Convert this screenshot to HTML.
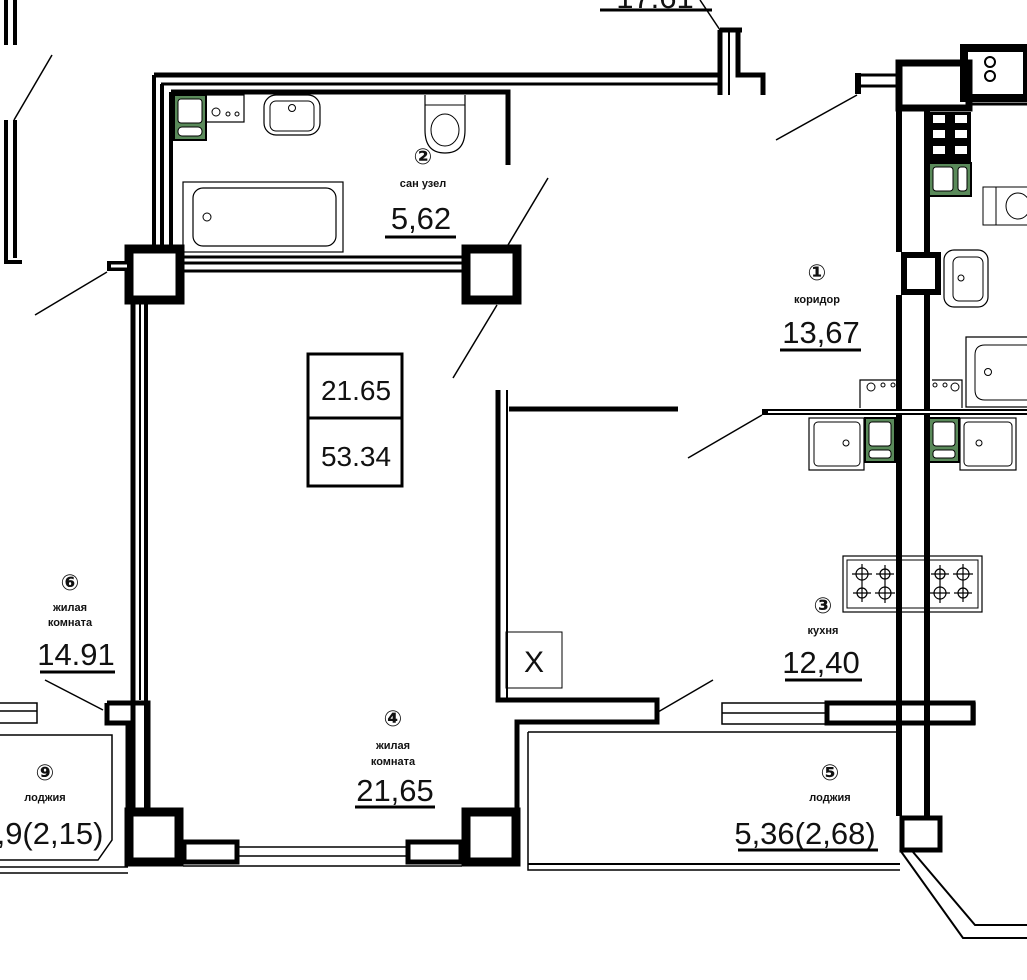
<!DOCTYPE html>
<html><head><meta charset="utf-8"><style>
html,body{margin:0;padding:0;background:#fff;width:1027px;height:980px;overflow:hidden}
svg{display:block}
text{font-family:"Liberation Sans","DejaVu Sans",sans-serif;fill:#111}
.big{font-size:31px}
.sm{font-size:11px;font-weight:bold}
.n{font-size:22px;font-weight:bold}
</style></head><body>
<svg width="1027" height="980" viewBox="0 0 1027 980" xmlns="http://www.w3.org/2000/svg">
<g fill="none" stroke="#000">
<path d="M6 0V45M15 0V45" stroke-width="4"/>
<path d="M6 120V262H22M15 120V258" stroke-width="4"/>
<line x1="52" y1="55" x2="14" y2="120" stroke-width="1.5"/>
<line x1="600" y1="10" x2="712" y2="10" stroke-width="3"/>
<line x1="700" y1="0" x2="720" y2="30" stroke-width="1.5"/>
<path d="M720 30V95M738 30V75H763V95M720 30H742" stroke-width="5"/>
<path d="M729 30V95" stroke-width="2"/>
<path d="M154 75H718" stroke-width="5"/>
<path d="M161 84H718" stroke-width="3"/>
<path d="M171 92H508V165" stroke-width="5"/>
<path d="M154 75V250M162 84V250" stroke-width="4"/>
<path d="M171 92V250" stroke-width="4"/>
<path d="M183 257H462M183 263H462M183 271H462" stroke-width="3"/>
<rect x="183" y="182" width="160" height="70" stroke-width="1.2"/>
<rect x="193" y="188" width="143" height="58" rx="10" stroke-width="1.2"/>
<circle cx="207" cy="217" r="4" stroke-width="1"/>
<rect x="264" y="95" width="56" height="40" rx="12" stroke-width="1.2"/>
<rect x="270" y="101" width="44" height="30" rx="6" stroke-width="1"/>
<circle cx="292" cy="108" r="3.5" stroke-width="1"/>
<path d="M425 95V130Q425 153 445 153Q465 153 465 130V95" stroke-width="1.2"/>
<path d="M425 105H465" stroke-width="1"/>
<ellipse cx="445" cy="130" rx="14" ry="16" stroke-width="1"/>
<rect x="206" y="95" width="38" height="27" stroke-width="1.2"/>
<circle cx="216" cy="112" r="4" stroke-width="1"/>
<circle cx="228" cy="114" r="2" stroke-width="1"/>
<circle cx="237" cy="114" r="2" stroke-width="1"/>
<rect x="174" y="95" width="32" height="45" stroke="#000" fill="#5a8a5a" stroke-width="2"/>
<rect x="178" y="99" width="24" height="24" fill="#fff" rx="3" stroke-width="1"/>
<rect x="178" y="127" width="24" height="9" fill="#fff" rx="4" stroke-width="1"/>
<rect x="129" y="249" width="51" height="51" stroke-width="9"/>
<rect x="466" y="249" width="51" height="51" stroke-width="9"/>
<rect x="129" y="812" width="50" height="50" stroke-width="9"/>
<rect x="466" y="812" width="50" height="50" stroke-width="9"/>
<path d="M107 266H127" stroke-width="10"/>
<path d="M111 266H127" stroke="#fff" stroke-width="3"/>
<line x1="35" y1="315" x2="107" y2="272" stroke-width="1.5"/>
<line x1="453" y1="378" x2="497" y2="305" stroke-width="1.5"/>
<line x1="548" y1="178" x2="508" y2="245" stroke-width="1.5"/>
<path d="M133 302V810" stroke-width="5"/>
<path d="M140 302V700" stroke-width="2"/>
<path d="M146 302V810" stroke-width="4"/>
<path d="M107 703H148V810M107 703V723H128V810" stroke-width="5"/>
<line x1="45" y1="680" x2="103" y2="710" stroke-width="1.5"/>
<rect x="184" y="842" width="53" height="20" stroke-width="5"/>
<rect x="408" y="842" width="53" height="20" stroke-width="5"/>
<path d="M237 847H408M237 856H408M183 866H462" stroke-width="1.5"/>
<path d="M498 390V700H657V722H517V810" stroke-width="5"/>
<path d="M507 390V700" stroke-width="2"/>
<path d="M509 409H678" stroke-width="5"/>
<line x1="658" y1="712" x2="713" y2="680" stroke-width="1.5"/>
<rect x="308" y="354" width="94" height="132" stroke-width="3"/>
<line x1="308" y1="418" x2="402" y2="418" stroke-width="3"/>
<rect x="506" y="632" width="56" height="56" stroke-width="1"/>
<path d="M0 703H37V723H0M0 711H37" stroke-width="1.5"/>
<path d="M0 735H112V840L98 860H0" stroke-width="1.5"/>
<path d="M0 867H128M0 873H128" stroke-width="1.5"/>
<path d="M528 732H900M528 732V870H900" stroke-width="1.5"/>
<path d="M528 864H900" stroke-width="2"/>
<path d="M900 850L963 938H1027M913 852L975 925H1027" stroke-width="2"/>
<path d="M722 703H975V724H722Z" stroke-width="1.5"/>
<path d="M722 713H825" stroke-width="1.5"/>
<rect x="827" y="703" width="146" height="20" stroke-width="5"/>
<path d="M899 63V252M899 295V816" stroke-width="6"/>
<path d="M927 110V252M927 295V816" stroke-width="6"/>
<rect x="902" y="818" width="38" height="32" stroke-width="5"/>
<rect x="904" y="255" width="34" height="37" stroke-width="6"/>
<rect x="899" y="63" width="70" height="45" stroke-width="7"/>
<path d="M856 75H899M856 86H899" stroke-width="3"/>
<path d="M858 73V94" stroke-width="6"/>
<line x1="776" y1="140" x2="857" y2="95" stroke-width="1.5"/>
<path d="M964 48H1027V98H964Z" stroke-width="8"/>
<circle cx="990" cy="62" r="5" stroke-width="2"/><circle cx="990" cy="76" r="5" stroke-width="2"/>
<path d="M970 104H1027" stroke-width="3"/>
<rect x="929" y="112" width="42" height="50" fill="#000" stroke="none"/>
<rect x="933" y="115" width="12" height="8" fill="#fff" stroke="none"/>
<rect x="955" y="115" width="12" height="8" fill="#fff" stroke="none"/>
<rect x="933" y="130" width="12" height="8" fill="#fff" stroke="none"/>
<rect x="955" y="130" width="12" height="8" fill="#fff" stroke="none"/>
<rect x="933" y="146" width="12" height="8" fill="#fff" stroke="none"/>
<rect x="955" y="146" width="12" height="8" fill="#fff" stroke="none"/>
<rect x="929" y="163" width="42" height="33" fill="#5a8a5a" stroke-width="2"/>
<rect x="933" y="167" width="20" height="24" fill="#fff" rx="3" stroke-width="1"/>
<rect x="958" y="167" width="9" height="24" fill="#fff" rx="3" stroke-width="1"/>
<path d="M1027 187H983V225H1027M996 187V225" stroke-width="1"/>
<ellipse cx="1018" cy="206" rx="12" ry="13" stroke-width="1"/>
<rect x="944" y="250" width="44" height="57" rx="10" stroke-width="1.2"/>
<rect x="953" y="257" width="30" height="44" rx="6" stroke-width="1"/>
<circle cx="961" cy="278" r="3" stroke-width="1"/>
<path d="M1027 337H966V407H1027" stroke-width="1.2"/>
<path d="M1027 345H985Q975 345 975 355V390Q975 400 985 400H1027" stroke-width="1"/>
<circle cx="988" cy="372" r="3.5" stroke-width="1"/>
<path d="M860 408V380H897M932 380H962V408" stroke-width="1.2"/>
<circle cx="871" cy="387" r="4" stroke-width="1"/><circle cx="883" cy="385" r="2" stroke-width="1"/><circle cx="893" cy="385" r="2" stroke-width="1"/>
<circle cx="935" cy="385" r="2" stroke-width="1"/><circle cx="945" cy="385" r="2" stroke-width="1"/><circle cx="955" cy="387" r="4" stroke-width="1"/>
<path d="M762 412H1027" stroke-width="6"/>
<path d="M768 412H1027" stroke="#fff" stroke-width="2"/>
<line x1="688" y1="458" x2="762" y2="415" stroke-width="1.5"/>
<rect x="809" y="418" width="55" height="52" stroke-width="1.2"/>
<rect x="814" y="422" width="46" height="44" rx="4" stroke-width="1"/>
<circle cx="846" cy="443" r="3" stroke-width="1"/>
<rect x="960" y="418" width="56" height="52" stroke-width="1.2"/>
<rect x="964" y="422" width="48" height="44" rx="4" stroke-width="1"/>
<circle cx="979" cy="443" r="3" stroke-width="1"/>
<rect x="865" y="418" width="30" height="44" fill="#5a8a5a" stroke-width="2"/>
<rect x="869" y="422" width="22" height="24" fill="#fff" rx="3" stroke-width="1"/>
<rect x="869" y="450" width="22" height="8" fill="#fff" rx="3" stroke-width="1"/>
<rect x="929" y="418" width="30" height="44" fill="#5a8a5a" stroke-width="2"/>
<rect x="933" y="422" width="22" height="24" fill="#fff" rx="3" stroke-width="1"/>
<rect x="933" y="450" width="22" height="8" fill="#fff" rx="3" stroke-width="1"/>
<rect x="843" y="556" width="139" height="56" stroke-width="1.2"/>
<rect x="847" y="560" width="131" height="48" stroke-width="1"/>
<g stroke-width="1.2">
<circle cx="862" cy="574" r="6"/><circle cx="885" cy="574" r="5"/><circle cx="862" cy="593" r="5"/><circle cx="885" cy="593" r="6"/>
<circle cx="940" cy="574" r="5"/><circle cx="963" cy="574" r="6"/><circle cx="940" cy="593" r="6"/><circle cx="963" cy="593" r="5"/>
<path d="M852 574H872M862 564V584M876 574H894M885 565V583M853 593H871M862 584V602M875 593H895M885 583V603M931 574H949M940 565V583M953 574H973M963 564V584M930 593H950M940 583V603M954 593H972M963 584V602"/>
</g>
</g>
<g text-anchor="middle">
<text x="356" y="400" font-size="28">21.65</text>
<text x="356" y="466" font-size="28">53.34</text>
<text x="534" y="672" font-size="30">X</text>
<text x="423" y="164" class="n">②</text>
<text x="423" y="187" class="sm">сан узел</text>
<text x="421" y="229" class="big">5,62</text>
<text x="817" y="280" class="n">①</text>
<text x="817" y="303" class="sm">коридор</text>
<text x="821" y="343" class="big">13,67</text>
<text x="823" y="613" class="n">③</text>
<text x="823" y="634" class="sm">кухня</text>
<text x="821" y="673" class="big">12,40</text>
<text x="70" y="590" class="n">⑥</text>
<text x="70" y="611" class="sm">жилая</text>
<text x="70" y="626" class="sm">комната</text>
<text x="76" y="665" class="big">14.91</text>
<text x="393" y="726" class="n">④</text>
<text x="393" y="749" class="sm">жилая</text>
<text x="393" y="765" class="sm">комната</text>
<text x="395" y="801" class="big">21,65</text>
<text x="45" y="780" class="n">⑨</text>
<text x="45" y="801" class="sm">лоджия</text>
<text x="50" y="844" class="big">,9(2,15)</text>
<text x="830" y="780" class="n">⑤</text>
<text x="830" y="801" class="sm">лоджия</text>
<text x="805" y="844" class="big">5,36(2,68)</text>
<text x="655" y="8" class="big">17.61</text>
</g>
<g stroke="#000" stroke-width="3">
<line x1="385" y1="237" x2="456" y2="237"/>
<line x1="780" y1="350" x2="861" y2="350"/>
<line x1="785" y1="680" x2="862" y2="680"/>
<line x1="40" y1="672" x2="115" y2="672"/>
<line x1="355" y1="807" x2="435" y2="807"/>
<line x1="738" y1="850" x2="878" y2="850"/>
</g>
</svg>
</body></html>
